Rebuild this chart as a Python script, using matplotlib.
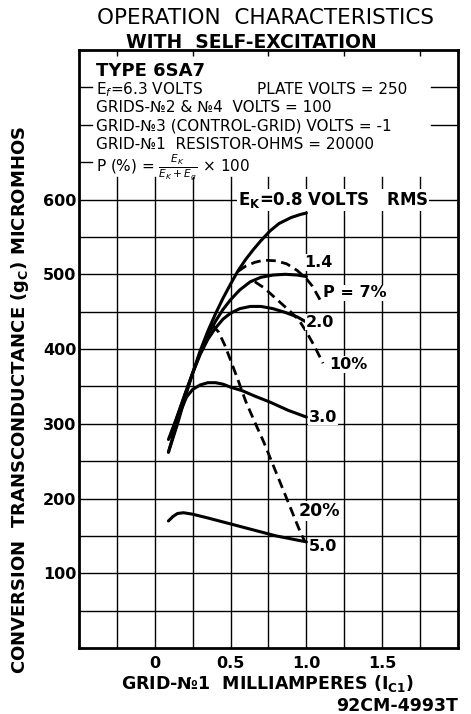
import matplotlib.pyplot as plt
import numpy as np

# curve data read from the sheet: grid-No1 mA vs conversion transconductance (micromhos)
x_08 = [0.09, 0.15, 0.20, 0.25, 0.30, 0.35, 0.40, 0.45, 0.50, 0.55, 0.60, 0.65, 0.70, 0.76, 0.82, 0.90, 0.96, 1.00]
y_08 = [262, 300, 335, 368, 398, 424, 447, 468, 487, 505, 520, 533, 545, 558, 568, 576, 580, 582]

x_14 = [0.09, 0.15, 0.20, 0.25, 0.30, 0.35, 0.40, 0.45, 0.50, 0.56, 0.63, 0.70, 0.78, 0.86, 0.94, 1.00]
y_14 = [279, 311, 340, 368, 395, 418, 437, 453, 466, 479, 490, 496, 499, 500, 499, 497]

x_20 = [0.10, 0.15, 0.20, 0.25, 0.30, 0.35, 0.40, 0.45, 0.50, 0.56, 0.63, 0.70, 0.78, 0.86, 0.94, 1.00]
y_20 = [282, 311, 340, 368, 393, 413, 428, 440, 448, 454, 457, 457, 454, 449, 443, 436]

x_30 = [0.09, 0.13, 0.17, 0.21, 0.25, 0.30, 0.35, 0.40, 0.45, 0.50, 0.58, 0.66, 0.76, 0.88, 1.00]
y_30 = [262, 290, 317, 336, 346, 352, 355, 355, 353, 349, 344, 337, 329, 318, 309]

x_50 = [0.09, 0.12, 0.15, 0.19, 0.25, 0.35, 0.50, 0.65, 0.80, 0.90, 1.00]
y_50 = [170, 176, 180, 181, 179, 174, 166, 158, 150, 146, 142]

# constant P (%) curves
x_p7 = [0.55, 0.60, 0.66, 0.72, 0.80, 0.87, 0.94, 1.00, 1.04, 1.09]
y_p7 = [504, 511, 516, 519, 518, 514, 505, 494, 484, 466]

x_p10 = [0.66, 0.72, 0.78, 0.84, 0.90, 0.95, 1.00, 1.05, 1.11]
y_p10 = [490, 482, 471, 460, 449, 439, 423, 405, 381]

x_p20 = [0.38, 0.42, 0.46, 0.50, 0.55, 0.60, 0.66, 0.72, 0.78, 0.84, 0.90, 0.95, 0.99]
y_p20 = [432, 423, 406, 385, 358, 330, 302, 275, 245, 215, 185, 160, 142]

xtick_vals = [0, 0.5, 1.0, 1.5]
xtick_labels = ['0', '0.5', '1.0', '1.5']
ytick_vals = [100, 200, 300, 400, 500, 600]

fig = plt.figure(figsize=(4.71, 7.14), dpi=100)
ax = fig.add_axes([0.1677, 0.0924, 0.8047, 0.8375])
ax.set_xlim(-0.5, 2.0)
ax.set_ylim(0, 800)

#grid, only in the lower part; the upper part holds the notes
for xv in np.arange(-0.25, 2.0, 0.25):
    ax.axvline(xv, ymax=630/800, color='k', lw=1.0, zorder=1)
for yv in range(50, 650, 50):
    ax.axhline(yv, color='k', lw=1.0, zorder=1)
#short stubs at the edges of the notes area
for yv in [650, 700, 750]:
    ax.axhline(yv, xmin=0, xmax=0.035, color='k', lw=1.0, zorder=1)
for yv in [700, 750]:
    ax.axhline(yv, xmin=0.93, xmax=1.0, color='k', lw=1.0, zorder=1)

solid = dict(color='k', lw=2.2, solid_capstyle='round', zorder=3)
ax.plot(x_08, y_08, **solid)
ax.plot(x_14, y_14, **solid)
ax.plot(x_20, y_20, **solid)
ax.plot(x_30, y_30, **solid)
ax.plot(x_50, y_50, **solid)

dashed = dict(color='k', lw=2.0, dashes=(3.5, 2.0), zorder=3)
ax.plot(x_p7, y_p7, **dashed)
ax.plot(x_p10, y_p10, **dashed)
ax.plot(x_p20, y_p20, **dashed)

box = dict(facecolor='white', edgecolor='none', pad=0.6)
lab = dict(fontsize=11.5, fontweight='bold', va='center', ha='left', zorder=4, bbox=box)
ax.text(0.55, 599, r'$\mathbf{E_K}$=0.8 VOLTS   RMS', fontsize=12, fontweight='bold',
        va='center', ha='left', zorder=4, bbox=box)
ax.text(0.985, 516, '1.4', **lab)
ax.text(1.11, 475, 'P = 7%', **lab)
ax.text(0.995, 436, '2.0', **lab)
ax.text(1.15, 379, '10%', **lab)
ax.text(1.015, 309, '3.0', **lab)
ax.text(0.95, 183, '20%', fontsize=12.5, fontweight='bold', va='center', ha='left', zorder=4, bbox=box)
ax.text(1.015, 136, '5.0', **lab)

#notes block
ax.text(-0.385, 772, 'TYPE 6SA7', fontsize=13, fontweight='bold', va='center')
note = dict(fontsize=11, va='center', ha='left')
ax.text(-0.385, 747, r'E$_f$=6.3 VOLTS', **note)
ax.text(0.675, 747, 'PLATE VOLTS = 250', **note)
ax.text(-0.385, 723, 'GRIDS-№2 & №4  VOLTS = 100', **note)
ax.text(-0.385, 698, 'GRID-№3 (CONTROL-GRID) VOLTS = -1', **note)
ax.text(-0.385, 674, 'GRID-№1  RESISTOR-OHMS = 20000', **note)
ax.text(-0.385, 644, r'P (%) = $\frac{E_K}{E_K+E_g}$ × 100', **note)

ax.set_xticks(xtick_vals)
ax.set_xticklabels(xtick_labels)
ax.set_yticks(ytick_vals)
ax.set_xticks(np.arange(-0.25, 2.0, 0.25), minor=True)
ax.tick_params(which='major', length=0, labelsize=11.5, pad=2)
ax.tick_params(axis='x', which='major', pad=6)
ax.tick_params(which='minor', bottom=False, top=True, direction='in', length=4, width=1)
for t in ax.get_xticklabels() + ax.get_yticklabels():
    t.set_fontweight('bold')
for s in ax.spines.values():
    s.set_linewidth(2)

fig.text(0.563, 0.975, 'OPERATION  CHARACTERISTICS', fontsize=15.5, ha='center', va='center')
fig.text(0.533, 0.941, 'WITH  SELF-EXCITATION', fontsize=13.5, fontweight='bold', ha='center', va='center')
fig.text(0.042, 0.44, r'CONVERSION  TRANSCONDUCTANCE ($\mathbf{g_C}$) MICROMHOS', fontsize=13,
         fontweight='bold', rotation=90, ha='center', va='center')
fig.text(0.569, 0.0434, r'GRID-№1  MILLIAMPERES ($\mathbf{I_{C1}}$)', fontsize=12.5, fontweight='bold',
         ha='center', va='center')
fig.text(0.972, 0.0112, '92CM-4993T', fontsize=12.5, fontweight='bold', ha='right', va='center')

fig.savefig('out.png', dpi=100)
